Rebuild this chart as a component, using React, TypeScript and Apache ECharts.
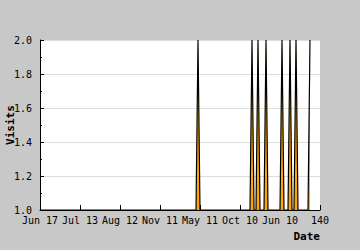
import React, { useEffect, useRef } from "react";
import * as echarts from "echarts";

// x tick labels (one every 20 days)
const xTickLabels = ["Jun 17", "Jul 13", "Aug 12", "Nov 11", "May 11", "Oct 10", "Jun 10", "140"];
// day index and visits at each point where the line changes
const days = [0, 78, 79, 80, 105, 106, 107, 108, 109, 110, 112, 113, 114, 120, 121, 122, 124, 125, 126, 127, 128, 129, 134, 135];
const visits = [1, 1, 2, 1, 1, 2, 1, 1, 2, 1, 1, 2, 1, 1, 2, 1, 1, 2, 1, 1, 2, 1, 1, 2];
const yTicks = [1.0, 1.2, 1.4, 1.6, 1.8, 2.0];

export default function App() {
  const ref = useRef<HTMLDivElement>(null);
  useEffect(() => {
    document.body.style.margin = "0";
    if (!ref.current) return;
    const chart = echarts.init(ref.current, undefined, { renderer: "svg" });
    const mono = "DejaVu Sans Mono";
    chart.setOption({
      animation: false,
      backgroundColor: "#c8c8c8",
      grid: {
        left: 40,
        right: 40,
        top: 40,
        bottom: 40,
        show: true,
        backgroundColor: "#ffffff",
        borderWidth: 0,
      },
      xAxis: {
        type: "value",
        min: 0,
        max: 140,
        interval: 20,
        axisLine: { show: true, lineStyle: { color: "#000", width: 1 } },
        axisTick: { show: true, inside: true, length: 5, lineStyle: { color: "#000" } },
        splitLine: { show: false },
        axisLabel: {
          margin: 5,
          fontFamily: mono,
          fontSize: 10,
          color: "#000",
          showMinLabel: true,
          showMaxLabel: true,
          formatter: (v: number) => xTickLabels[Math.round(v / 20)] ?? "",
        },
      },
      yAxis: {
        type: "value",
        min: yTicks[0],
        max: yTicks[yTicks.length - 1],
        interval: 0.2,
        axisLine: { show: true, lineStyle: { color: "#000", width: 1 } },
        axisTick: { show: true, inside: true, length: 4, lineStyle: { color: "#000" } },
        minorTick: { show: true, splitNumber: 2, length: 2, lineStyle: { color: "#000" } },
        splitLine: { show: true, lineStyle: { color: "#dddddd", width: 1 } },
        axisLabel: {
          margin: 8,
          fontFamily: mono,
          fontSize: 10,
          color: "#000",
          formatter: (v: number) => v.toFixed(1),
        },
      },
      graphic: [
        {
          type: "text",
          x: 10,
          y: 125,
          rotation: Math.PI / 2,
          style: {
            text: "Visits",
            font: "bold 11px 'DejaVu Sans Mono'",
            fill: "#000",
            align: "center",
            verticalAlign: "middle",
          },
        },
        {
          type: "text",
          x: 320,
          y: 236,
          style: {
            text: "Date",
            font: "bold 11px 'DejaVu Sans Mono'",
            fill: "#000",
            align: "right",
            verticalAlign: "middle",
          },
        },
      ],
      series: [
        {
          type: "line",
          data: days.map((d, i) => [d, visits[i]]),
          symbol: "none",
          clip: true,
          z: 1,
          lineStyle: { color: "#000", width: 1.2 },
          areaStyle: { color: "#ffa500", opacity: 1, origin: "start" },
        },
      ],
    });
    return () => chart.dispose();
  }, []);
  return <div ref={ref} style={{ width: 360, height: 250 }} />;
}
